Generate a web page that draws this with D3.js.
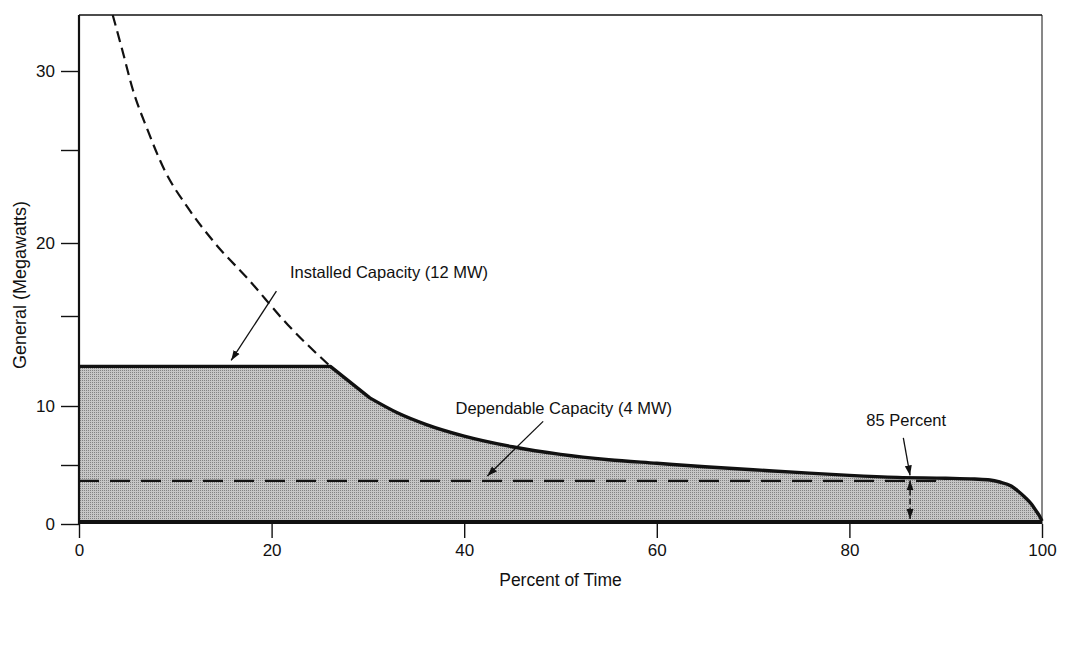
<!DOCTYPE html>
<html><head><meta charset="utf-8">
<script src="https://cdn.jsdelivr.net/npm/d3@7"></script>
<style>
body{margin:0;background:#fff;}
text{font-family:"Liberation Sans",Arial,Helvetica,sans-serif;fill:#111;}
</style></head>
<body>
<svg id="chart" width="1066" height="651"></svg>
<script>
// ---------- data ----------
const xTickValues = [0, 20, 40, 60, 80, 100];
const yTickValues = [0, 5, 10, 15, 20, 25, 30];
const yTickLabels = ["0", "", "10", "", "20", "", "30"];

// flow duration curve above installed capacity (dashed)
const flowPct = [3.5, 4.5, 5.6, 7.1, 8.9, 11.3, 14.1, 17.6, 21.7, 26.1];
const flowMW  = [33.5, 31.3, 28.8, 26.3, 23.9, 21.9, 20.0, 17.5, 14.5, 12.2];

// power output duration below the installed capacity (solid, filled)
const cornerPct = 26.1;
const kneePct = 30.2;
const powerPct = [30.2, 33.0, 36.0, 40.0, 45.0, 50.0, 55.0, 60.0, 65.0, 70.0, 75.0, 80.0, 85.0, 90.0, 93.0, 94.6, 95.6, 96.8, 97.5, 98.2, 98.9, 99.4, 99.8, 100];
const powerMW  = [10.45, 9.45, 8.45, 7.45, 6.55, 5.9, 5.45, 5.15, 4.85, 4.6, 4.35, 4.12, 3.95, 3.88, 3.81, 3.73, 3.56, 3.22, 2.8, 2.29, 1.69, 1.1, 0.59, 0.25];

const installedMW = 12.2;
const dependableMW = 3.65;
const exceedPct = 86.3;

const labels = {
  installed: "Installed Capacity (12 MW)",
  dependable: "Dependable Capacity (4 MW)",
  percent: "85 Percent",
  xTitle: "Percent of Time",
  yTitle: "General (Megawatts)"
};

// ---------- scales ----------
const svg = d3.select("#chart");
const x = d3.scaleLinear().domain([0, 100]).range([79, 1042]);
const y = d3.scaleLinear()
  .domain([0, 5, 10, 15, 20, 25, 30, 33.5])
  .range([524, 465, 406, 316, 243, 150, 71, 15]);
const base = y(0) - 2;

const defs = svg.append("defs");
const pat = defs.append("pattern").attr("id", "stip").attr("width", 2).attr("height", 2)
  .attr("patternUnits", "userSpaceOnUse");
pat.append("rect").attr("width", 2).attr("height", 2).attr("fill", "#c6c6c6");
pat.append("rect").attr("width", 1).attr("height", 1).attr("fill", "#828282");

defs.append("marker").attr("id", "arr").attr("viewBox", "0 0 10 10")
  .attr("refX", 10).attr("refY", 5).attr("markerWidth", 10).attr("markerHeight", 10)
  .attr("markerUnits", "userSpaceOnUse").attr("orient", "auto-start-reverse")
  .append("path").attr("d", "M0,1.5 L10,5 L0,8.5 Z").attr("fill", "#111");

const power = powerPct.map((p, i) => ({p, v: powerMW[i]}));
const flow = flowPct.map((p, i) => ({p, v: flowMW[i]}));

const smooth = d3.line().x(d => x(d.p)).y(d => y(d.v)).curve(d3.curveMonotoneX);
const restPath = smooth(power);
const linePath = `M${x(0)},${y(installedMW)}L${x(cornerPct)},${y(installedMW)}` + restPath.replace(/^M/, "L");
const areaPath = `M${x(0)},${base}L` + linePath.slice(1) + `L${x(100)},${base}Z`;

// filled area
svg.append("path").attr("d", areaPath).attr("fill", "url(#stip)");

// frame
svg.append("line").attr("x1", x(0)).attr("x2", x(100)).attr("y1", y(33.5)).attr("y2", y(33.5))
  .attr("stroke", "#111").attr("stroke-width", 1.5);
svg.append("line").attr("x1", x(100)).attr("x2", x(100)).attr("y1", y(33.5)).attr("y2", y(0))
  .attr("stroke", "#111").attr("stroke-width", 1);

// dependable capacity dashed
svg.append("line").attr("x1", x(0)).attr("x2", x(89)).attr("y1", y(dependableMW)).attr("y2", y(dependableMW))
  .attr("stroke", "#111").attr("stroke-width", 2.2).attr("stroke-dasharray", "20,11");

// power curve line
svg.append("path").attr("d", linePath)
  .attr("fill", "none").attr("stroke", "#111").attr("stroke-width", 3.4)
  .attr("stroke-linejoin", "round");

// flow curve dashed
svg.append("path").datum(flow)
  .attr("d", smooth)
  .attr("fill", "none").attr("stroke", "#111").attr("stroke-width", 2.2)
  .attr("stroke-dasharray", "11,6");

// baseline
svg.append("line").attr("x1", x(0)).attr("x2", x(100)).attr("y1", base).attr("y2", base)
  .attr("stroke", "#111").attr("stroke-width", 4);

// axes
const yAxis = d3.axisLeft(y).tickValues(yTickValues).tickSize(18).tickPadding(6)
  .tickFormat((d, i) => yTickLabels[i]);
const gy = svg.append("g").attr("transform", `translate(${x(0)},0)`).call(yAxis);
gy.select(".domain").remove();
gy.append("line").attr("x1", 0).attr("x2", 0).attr("y1", y(33.5)).attr("y2", y(0))
  .attr("stroke", "#111").attr("stroke-width", 2.2);

const xAxis = d3.axisBottom(x).tickValues(xTickValues).tickSize(14).tickPadding(6);
const gx = svg.append("g").attr("transform", `translate(0,${y(0)})`).call(xAxis);
gx.select(".domain").remove();

svg.selectAll(".tick line").attr("stroke", "#111").attr("stroke-width", 1.4);
svg.selectAll(".tick text").attr("font-size", 17).attr("fill", "#111")
  .style("font-family", "'Liberation Sans', Arial, sans-serif");

// axis titles
svg.append("text").attr("x", x(50)).attr("y", 586).attr("text-anchor", "middle")
  .attr("font-size", 17.5).text(labels.xTitle);
svg.append("text").attr("transform", `translate(26,285) rotate(-90)`)
  .attr("text-anchor", "middle").attr("font-size", 18).text(labels.yTitle);

// annotations
svg.append("text").attr("x", x(21.9)).attr("y", y(17.6)).attr("font-size", 16.5).text(labels.installed);
svg.append("line").attr("x1", x(20.5)).attr("y1", y(16.7)).attr("x2", x(15.8)).attr("y2", y(installedMW) - 6)
  .attr("stroke", "#111").attr("stroke-width", 1.3).attr("marker-end", "url(#arr)");

svg.append("text").attr("x", x(39.1)).attr("y", y(9.3)).attr("font-size", 16.5).text(labels.dependable);
svg.append("line").attr("x1", x(48.2)).attr("y1", y(8.7)).attr("x2", x(42.4)).attr("y2", y(dependableMW) - 5)
  .attr("stroke", "#111").attr("stroke-width", 1.3).attr("marker-end", "url(#arr)");

svg.append("text").attr("x", x(85.9)).attr("y", y(8.3)).attr("text-anchor", "middle")
  .attr("font-size", 16.5).text(labels.percent);
svg.append("line").attr("x1", x(85.6)).attr("y1", y(7.3)).attr("x2", x(exceedPct)).attr("y2", y(3.95) - 2)
  .attr("stroke", "#111").attr("stroke-width", 1.3).attr("marker-end", "url(#arr)");

// 85 percent double arrow
svg.append("line").attr("x1", x(exceedPct)).attr("x2", x(exceedPct))
  .attr("y1", y(3.95) + 3).attr("y2", y(0) - 5)
  .attr("stroke", "#111").attr("stroke-width", 1.5).attr("stroke-dasharray", "6,3")
  .attr("marker-start", "url(#arr)").attr("marker-end", "url(#arr)");
</script>
</body></html>
